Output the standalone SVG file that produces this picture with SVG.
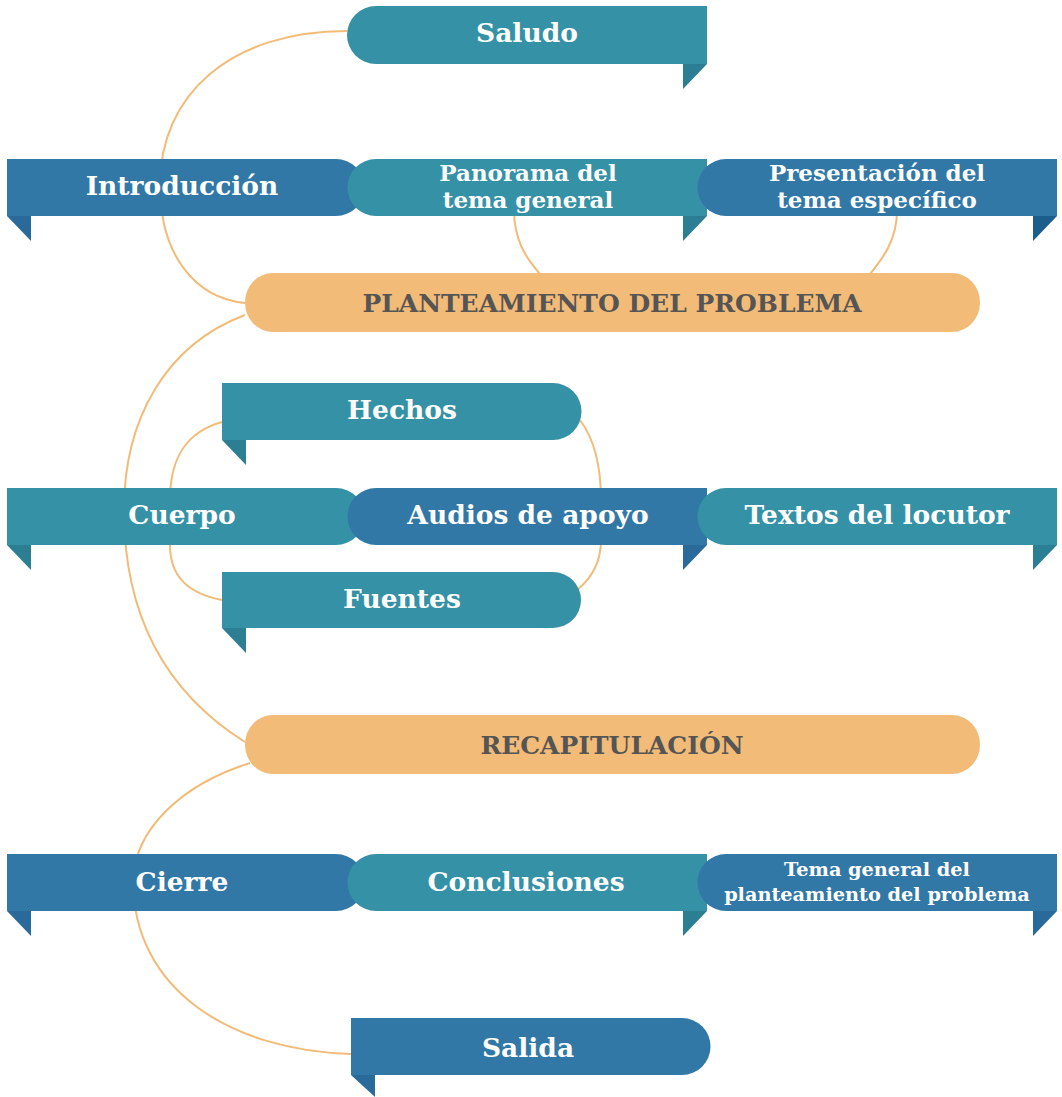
<svg xmlns="http://www.w3.org/2000/svg" width="1062" height="1097" viewBox="0 0 1062 1097">
<style>
.teal{fill:#3591A6}
.blue{fill:#3178A7}
.orange{fill:#F2BB77}
.foldT{fill:#2C7F92}
.foldB{fill:#2A6A9A}
.foldD{fill:#1B5E8C}
.lbl{font-family:"DejaVu Serif","Liberation Serif",serif;font-weight:bold;fill:#ffffff;text-anchor:middle}
.big{font-size:26.5px}
.mid{font-size:23px}
.sm{font-size:19.3px}
.head{font-family:"DejaVu Serif","Liberation Serif",serif;font-weight:bold;fill:#555555;text-anchor:middle;font-size:25px}
.conn{fill:none;stroke:#F2BB77;stroke-width:2}
</style>
<rect width="1062" height="1097" fill="#ffffff"/>
<g id="connectors">
<path class="conn" d="M347,31 C230,31 160,95 160,185 C160,255 195,298 245,303"/>
<path class="conn" d="M514,210 C514,240 526,258 540,274"/>
<path class="conn" d="M897,210 C897,240 883,258 870,274"/>
<path class="conn" d="M245,315 C165,345 124,420 124,510 C124,620 170,695 245,742"/>
<path class="conn" d="M222,422 C186,432 170,458 170,500 L170,545 C170,575 186,593 222,600"/>
<path class="conn" d="M580,420 C595,440 601,470 601,500 L601,540 C601,562 592,578 577,590"/>
<path class="conn" d="M250,763 C180,785 135,830 133,880 C133,990 230,1050 351,1054"/>
</g>
<g id="saludo">
<path class="foldT" d="M683,64 H707 L683,89 Z"/>
<path class="teal" d="M376,6 H707 V64 H376 A29,29 0 0 1 376,6 Z"/>
<text class="lbl big" x="527" y="42">Saludo</text>
</g>
<g id="introduccion">
<path class="foldB" d="M7,216 H31 V241 Z"/>
<path class="blue" d="M7,159 H336 A28.5,28.5 0 0 1 336,216 H7 Z"/>
<text class="lbl big" x="182" y="195">Introducción</text>
</g>
<g id="panorama">
<path class="foldT" d="M683,216 H707 L683,241 Z"/>
<path class="teal" d="M376,159 H707 V216 H376 A28.5,28.5 0 0 1 376,159 Z"/>
<text class="lbl mid" x="528" y="181">Panorama del</text>
<text class="lbl mid" x="528" y="208">tema general</text>
</g>
<g id="presentacion">
<path class="foldD" d="M1033,216 H1057 L1033,241 Z"/>
<path class="blue" d="M726,159 H1057 V216 H726 A28.5,28.5 0 0 1 726,159 Z"/>
<text class="lbl mid" x="877" y="181">Presentación del</text>
<text class="lbl mid" x="877" y="208">tema específico</text>
</g>
<g id="planteamiento">
<rect class="orange" x="245" y="273" width="735" height="59" rx="28" ry="29"/>
<text class="head" x="612" y="312">PLANTEAMIENTO DEL PROBLEMA</text>
</g>
<g id="hechos">
<path class="foldT" d="M222,440 H246 V465 Z"/>
<path class="teal" d="M222,383 H553 A28.5,28.5 0 0 1 553,440 H222 Z"/>
<text class="lbl big" x="402" y="419">Hechos</text>
</g>
<g id="cuerpo">
<path class="foldT" d="M7,545 H31 V570 Z"/>
<path class="teal" d="M7,488 H336 A28.5,28.5 0 0 1 336,545 H7 Z"/>
<text class="lbl big" x="182" y="524">Cuerpo</text>
</g>
<g id="audios">
<path class="foldB" d="M683,545 H707 L683,570 Z"/>
<path class="blue" d="M376,488 H707 V545 H376 A28.5,28.5 0 0 1 376,488 Z"/>
<text class="lbl big" x="528" y="524">Audios de apoyo</text>
</g>
<g id="textos">
<path class="foldT" d="M1033,545 H1057 L1033,570 Z"/>
<path class="teal" d="M726,488 H1057 V545 H726 A28.5,28.5 0 0 1 726,488 Z"/>
<text class="lbl big" x="877" y="524">Textos del locutor</text>
</g>
<g id="fuentes">
<path class="foldT" d="M222,628 H246 V653 Z"/>
<path class="teal" d="M222,572 H553 A28,28 0 0 1 553,628 H222 Z"/>
<text class="lbl big" x="402" y="608">Fuentes</text>
</g>
<g id="recapitulacion">
<rect class="orange" x="245" y="715" width="735" height="59" rx="28" ry="29"/>
<text class="head" x="612" y="754">RECAPITULACIÓN</text>
</g>
<g id="cierre">
<path class="foldB" d="M7,911 H31 V936 Z"/>
<path class="blue" d="M7,854 H336 A28.5,28.5 0 0 1 336,911 H7 Z"/>
<text class="lbl big" x="182" y="891">Cierre</text>
</g>
<g id="conclusiones">
<path class="foldT" d="M683,911 H707 L683,936 Z"/>
<path class="teal" d="M376,854 H707 V911 H376 A28.5,28.5 0 0 1 376,854 Z"/>
<text class="lbl big" x="526" y="891">Conclusiones</text>
</g>
<g id="tema-general">
<path class="foldB" d="M1033,911 H1057 L1033,936 Z"/>
<path class="blue" d="M726,854 H1057 V911 H726 A28.5,28.5 0 0 1 726,854 Z"/>
<text class="lbl sm" x="877" y="876">Tema general del</text>
<text class="lbl sm" x="877" y="901">planteamiento del problema</text>
</g>
<g id="salida">
<path class="foldB" d="M351,1075 H375 V1097 L351,1075 Z"/>
<path class="blue" d="M351,1018 H682 A28.5,28.5 0 0 1 682,1075 H351 Z"/>
<text class="lbl big" x="528" y="1057">Salida</text>
</g>
</svg>
